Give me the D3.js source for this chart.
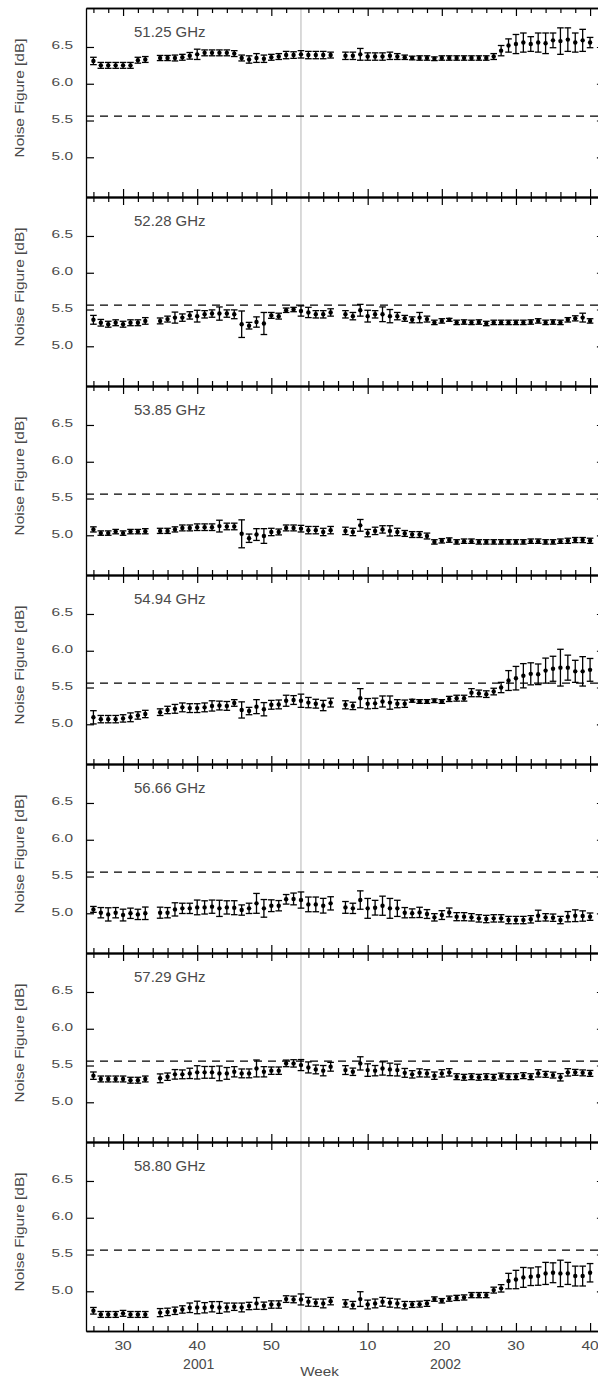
<!DOCTYPE html>
<html>
<head>
<meta charset="utf-8">
<script src="https://cdn.jsdelivr.net/npm/d3@7"></script>
<style>
  html, body { margin: 0; padding: 0; background: #fff; }
  svg { display: block; }
</style>
</head>
<body>
<svg id="chart" width="598" height="1379"></svg>
<script>
// ---------------- DATA ----------------
const frequencies = ["51.25 GHz", "52.28 GHz", "53.85 GHz", "54.94 GHz", "56.66 GHz", "57.29 GHz", "58.80 GHz"];

// continuous week index: 2001 weeks as-is, 2002 weeks = 53 + week
const weeks = [26, 27, 28, 29, 30, 31, 32, 33,
  35, 36, 37, 38, 39, 40, 41, 42, 43, 44, 45, 46, 47, 48, 49, 50, 51, 52, 53, 54, 55, 56, 57, 58,
  60, 61, 62, 63, 64, 65, 66, 67, 68, 69, 70, 71, 72, 73, 74, 75, 76, 77, 78, 79,
  80, 81, 82, 83, 84, 85, 86, 87, 88, 89, 90, 91, 92, 93];

const nf5125 = [6.31, 6.25, 6.25, 6.25, 6.25, 6.25, 6.32, 6.33,
  6.35, 6.35, 6.35, 6.36, 6.38, 6.40, 6.42, 6.42, 6.42, 6.42, 6.41, 6.35, 6.33, 6.35, 6.34, 6.36, 6.37, 6.39, 6.39, 6.40, 6.39, 6.39, 6.39, 6.39,
  6.38, 6.38, 6.40, 6.37, 6.37, 6.37, 6.38, 6.37, 6.36, 6.35, 6.35, 6.35, 6.34, 6.35, 6.35, 6.35, 6.35, 6.35, 6.35, 6.35,
  6.37, 6.45, 6.52, 6.54, 6.56, 6.54, 6.56, 6.55, 6.59, 6.58, 6.60, 6.56, 6.59, 6.56];
const err5125 = [0.05, 0.04, 0.04, 0.04, 0.04, 0.04, 0.04, 0.04,
  0.035, 0.035, 0.04, 0.04, 0.045, 0.07, 0.04, 0.04, 0.04, 0.04, 0.04, 0.04, 0.05, 0.06, 0.05, 0.04, 0.04, 0.05, 0.045, 0.05, 0.05, 0.05, 0.05, 0.04,
  0.05, 0.05, 0.08, 0.05, 0.05, 0.05, 0.05, 0.04, 0.03, 0.025, 0.03, 0.03, 0.025, 0.03, 0.03, 0.03, 0.03, 0.03, 0.03, 0.03,
  0.04, 0.07, 0.09, 0.13, 0.13, 0.10, 0.13, 0.14, 0.10, 0.18, 0.16, 0.13, 0.15, 0.07];

const nf5228 = [5.36, 5.32, 5.30, 5.32, 5.30, 5.32, 5.32, 5.345,
  5.345, 5.37, 5.39, 5.39, 5.42, 5.41, 5.435, 5.445, 5.445, 5.445, 5.435, 5.30, 5.28, 5.33, 5.31, 5.42, 5.41, 5.49, 5.50, 5.48, 5.46, 5.435, 5.435, 5.46,
  5.435, 5.41, 5.49, 5.41, 5.435, 5.435, 5.41, 5.41, 5.38, 5.36, 5.39, 5.37, 5.325, 5.345, 5.36, 5.325, 5.33, 5.325, 5.33, 5.31,
  5.325, 5.325, 5.325, 5.325, 5.325, 5.33, 5.345, 5.325, 5.33, 5.325, 5.36, 5.38, 5.39, 5.345];
const err5228 = [0.06, 0.045, 0.04, 0.04, 0.04, 0.04, 0.04, 0.045,
  0.04, 0.04, 0.075, 0.05, 0.05, 0.08, 0.05, 0.05, 0.09, 0.05, 0.06, 0.18, 0.045, 0.07, 0.15, 0.04, 0.04, 0.03, 0.03, 0.07, 0.07, 0.05, 0.05, 0.05,
  0.05, 0.05, 0.08, 0.08, 0.05, 0.10, 0.09, 0.05, 0.04, 0.04, 0.07, 0.04, 0.03, 0.03, 0.02, 0.03, 0.03, 0.03, 0.03, 0.03,
  0.03, 0.03, 0.03, 0.03, 0.03, 0.03, 0.03, 0.03, 0.03, 0.03, 0.03, 0.035, 0.06, 0.03];

const nf5385 = [5.08, 5.03, 5.03, 5.05, 5.03, 5.05, 5.05, 5.055,
  5.06, 5.06, 5.08, 5.10, 5.10, 5.11, 5.11, 5.11, 5.125, 5.12, 5.12, 5.02, 4.96, 5.01, 4.99, 5.045, 5.045, 5.10, 5.10, 5.09, 5.07, 5.07, 5.045, 5.07,
  5.06, 5.045, 5.135, 5.03, 5.06, 5.08, 5.06, 5.045, 5.025, 5.01, 5.01, 4.99, 4.91, 4.925, 4.935, 4.91, 4.92, 4.92, 4.91, 4.91,
  4.91, 4.91, 4.91, 4.91, 4.91, 4.92, 4.92, 4.91, 4.91, 4.92, 4.925, 4.935, 4.935, 4.925];
const err5385 = [0.035, 0.03, 0.03, 0.03, 0.03, 0.03, 0.03, 0.035,
  0.035, 0.035, 0.035, 0.04, 0.04, 0.045, 0.045, 0.045, 0.08, 0.045, 0.045, 0.19, 0.057, 0.08, 0.10, 0.05, 0.04, 0.04, 0.04, 0.045, 0.05, 0.05, 0.05, 0.05,
  0.05, 0.05, 0.08, 0.05, 0.05, 0.05, 0.07, 0.05, 0.04, 0.04, 0.04, 0.04, 0.03, 0.03, 0.03, 0.03, 0.03, 0.03, 0.03, 0.03,
  0.03, 0.03, 0.03, 0.03, 0.03, 0.03, 0.03, 0.03, 0.03, 0.03, 0.035, 0.035, 0.035, 0.035];

const nf5494 = [5.095, 5.07, 5.07, 5.07, 5.08, 5.095, 5.12, 5.14,
  5.165, 5.195, 5.21, 5.23, 5.22, 5.22, 5.23, 5.25, 5.255, 5.25, 5.29, 5.195, 5.18, 5.24, 5.205, 5.265, 5.27, 5.32, 5.33, 5.32, 5.295, 5.28, 5.255, 5.295,
  5.265, 5.25, 5.355, 5.28, 5.285, 5.31, 5.295, 5.28, 5.28, 5.32, 5.31, 5.31, 5.32, 5.31, 5.345, 5.355, 5.355, 5.43, 5.42, 5.41,
  5.445, 5.50, 5.595, 5.627, 5.66, 5.686, 5.68, 5.73, 5.755, 5.77, 5.77, 5.72, 5.72, 5.74];
const err5494 = [0.09, 0.05, 0.05, 0.05, 0.05, 0.06, 0.05, 0.05,
  0.045, 0.05, 0.06, 0.06, 0.06, 0.06, 0.06, 0.07, 0.06, 0.06, 0.045, 0.11, 0.05, 0.095, 0.09, 0.06, 0.06, 0.075, 0.06, 0.09, 0.07, 0.06, 0.07, 0.06,
  0.055, 0.05, 0.13, 0.07, 0.07, 0.075, 0.09, 0.055, 0.05, 0.02, 0.025, 0.025, 0.025, 0.025, 0.035, 0.04, 0.04, 0.055, 0.045, 0.045,
  0.045, 0.07, 0.135, 0.16, 0.165, 0.15, 0.14, 0.17, 0.17, 0.25, 0.17, 0.15, 0.20, 0.155];

const nf5666 = [5.053, 5.008, 4.985, 5.008, 4.976, 5.0, 4.985, 5.0,
  5.008, 5.008, 5.053, 5.067, 5.067, 5.08, 5.08, 5.09, 5.067, 5.08, 5.076, 5.044, 5.067, 5.135, 5.067, 5.103, 5.103, 5.19, 5.195, 5.18, 5.121, 5.121, 5.103, 5.135,
  5.08, 5.067, 5.18, 5.067, 5.076, 5.103, 5.067, 5.067, 5.008, 5.0, 5.012, 4.99, 4.945, 4.976, 5.012, 4.954, 4.954, 4.945, 4.931, 4.922,
  4.931, 4.931, 4.908, 4.908, 4.908, 4.918, 4.967, 4.945, 4.94, 4.908, 4.954, 4.967, 4.963, 4.954];
const err5666 = [0.04, 0.07, 0.09, 0.07, 0.08, 0.07, 0.07, 0.085,
  0.075, 0.07, 0.09, 0.07, 0.07, 0.10, 0.09, 0.09, 0.11, 0.09, 0.095, 0.07, 0.07, 0.135, 0.12, 0.08, 0.07, 0.065, 0.08, 0.11, 0.10, 0.10, 0.10, 0.09,
  0.08, 0.07, 0.125, 0.135, 0.10, 0.13, 0.135, 0.11, 0.07, 0.06, 0.07, 0.06, 0.05, 0.06, 0.06, 0.055, 0.055, 0.05, 0.05, 0.05,
  0.05, 0.05, 0.05, 0.05, 0.05, 0.05, 0.075, 0.05, 0.05, 0.05, 0.07, 0.08, 0.07, 0.05];

const nf5729 = [5.362, 5.317, 5.317, 5.317, 5.317, 5.30, 5.30, 5.317,
  5.326, 5.348, 5.38, 5.38, 5.393, 5.407, 5.407, 5.407, 5.393, 5.393, 5.415, 5.393, 5.393, 5.46, 5.415, 5.43, 5.43, 5.529, 5.529, 5.506, 5.474, 5.447, 5.43, 5.483,
  5.438, 5.415, 5.529, 5.438, 5.43, 5.46, 5.447, 5.438, 5.40, 5.38, 5.40, 5.393, 5.362, 5.393, 5.407, 5.348, 5.34, 5.348, 5.34, 5.348,
  5.34, 5.357, 5.348, 5.348, 5.362, 5.348, 5.393, 5.38, 5.37, 5.34, 5.407, 5.407, 5.40, 5.393];
const err5729 = [0.05, 0.04, 0.04, 0.04, 0.04, 0.04, 0.04, 0.04,
  0.06, 0.05, 0.065, 0.06, 0.07, 0.09, 0.08, 0.08, 0.10, 0.08, 0.07, 0.06, 0.06, 0.115, 0.07, 0.05, 0.05, 0.045, 0.05, 0.075, 0.075, 0.06, 0.07, 0.06,
  0.06, 0.05, 0.09, 0.085, 0.07, 0.09, 0.085, 0.08, 0.06, 0.05, 0.055, 0.05, 0.05, 0.05, 0.05, 0.04, 0.04, 0.04, 0.04, 0.04,
  0.04, 0.04, 0.04, 0.04, 0.04, 0.04, 0.05, 0.04, 0.04, 0.05, 0.05, 0.04, 0.04, 0.04];

const nf5880 = [4.735, 4.685, 4.685, 4.685, 4.70, 4.685, 4.685, 4.685,
  4.71, 4.72, 4.735, 4.753, 4.776, 4.78, 4.776, 4.79, 4.78, 4.78, 4.79, 4.78, 4.80, 4.835, 4.803, 4.82, 4.82, 4.894, 4.889, 4.889, 4.857, 4.844, 4.835, 4.866,
  4.835, 4.812, 4.894, 4.82, 4.835, 4.857, 4.844, 4.835, 4.812, 4.82, 4.825, 4.835, 4.894, 4.871, 4.90, 4.91, 4.916, 4.948, 4.948, 4.948,
  5.016, 5.04, 5.139, 5.16, 5.189, 5.198, 5.207, 5.243, 5.252, 5.243, 5.243, 5.207, 5.207, 5.252];
const err5880 = [0.045, 0.04, 0.04, 0.04, 0.04, 0.04, 0.04, 0.04,
  0.055, 0.05, 0.05, 0.05, 0.065, 0.085, 0.07, 0.07, 0.08, 0.06, 0.05, 0.06, 0.05, 0.08, 0.05, 0.05, 0.05, 0.045, 0.045, 0.075, 0.06, 0.05, 0.06, 0.05,
  0.05, 0.05, 0.10, 0.06, 0.06, 0.06, 0.06, 0.06, 0.05, 0.04, 0.04, 0.04, 0.03, 0.03, 0.035, 0.035, 0.035, 0.035, 0.035, 0.035,
  0.04, 0.05, 0.105, 0.125, 0.135, 0.12, 0.125, 0.15, 0.135, 0.18, 0.15, 0.135, 0.135, 0.125];

// axis ticks / labels
const ticks2001 = [26, 28, 30, 32, 34, 36, 38, 40, 42, 44, 46, 48, 50, 52];
const ticks2002 = [2, 4, 6, 8, 10, 12, 14, 16, 18, 20, 22, 24, 26, 28, 30, 32, 34, 36, 38, 40, 42];
const offset2002 = 53;          // week index of week 0 in 2002
const yTicks = [5.0, 5.5, 6.0, 6.5];
const yTickLabels = ["5.0", "5.5", "6.0", "6.5"];
const specLimit = 5.56;         // dashed reference level [dB]
const yearBoundaryWeek = 54;    // first week of 2002
const yearLabels = ["2001", "2002"];
const yearLabelWeeks = [40.2, 73.5];

const seriesValues = [nf5125, nf5228, nf5385, nf5494, nf5666, nf5729, nf5880];
const seriesErrors = [err5125, err5228, err5385, err5494, err5666, err5729, err5880];

// ---------------- LAYOUT ----------------
const left = 86, right = 604.9, top0 = 8, panelH = 189;
const font = "'Liberation Sans', Arial, Helvetica, sans-serif";
const textCol = "#4a4a4a";
const x = d3.scaleLinear().domain([25, 95]).range([left, right]);
const svg = d3.select("#chart");

const tickItems = ticks2001.map(w => ({ t: w, w }))
  .concat(ticks2002.map(w => ({ t: w + offset2002, w })));
const majorT = tickItems.filter(d => d.w % 10 === 0).map(d => d.t);
const minorT = tickItems.filter(d => d.w % 10 !== 0).map(d => d.t);

function scaledText(parent, px, py, str, size, sx, anchor, rotate) {
  const g = parent.append("g")
    .attr("transform", `translate(${px},${py})` + (rotate ? ` rotate(${rotate})` : ""));
  g.append("text")
    .attr("transform", `scale(${sx},1)`)
    .attr("text-anchor", anchor)
    .attr("font-family", font)
    .attr("font-size", size)
    .attr("fill", textCol)
    .text(str);
  return g;
}

// year boundary line
const lastBottom = top0 + panelH * frequencies.length;
svg.append("line")
  .attr("x1", x(yearBoundaryWeek)).attr("x2", x(yearBoundaryWeek))
  .attr("y1", top0).attr("y2", lastBottom)
  .attr("stroke", "#b4b4b4").attr("stroke-width", 1);

function styleAxis(g) {
  g.selectAll("path.domain").attr("stroke", "#000").attr("stroke-width", 1.3);
  g.selectAll(".tick line").attr("stroke", "#000").attr("stroke-width", 1.2);
  g.selectAll(".tick text").remove();
}

frequencies.forEach((freq, i) => {
  const top = top0 + i * panelH;
  const bot = top + panelH;
  const y = d3.scaleLinear().domain([4.46, 7.03]).range([bot, top]);
  const g = svg.append("g");

  // dashed reference level
  g.append("line")
    .attr("x1", left).attr("x2", right)
    .attr("y1", y(specLimit)).attr("y2", y(specLimit))
    .attr("stroke", "#000").attr("stroke-width", 1.2)
    .attr("stroke-dasharray", "8,6");

  // x axes (top and bottom of each panel, ticks inward)
  [[d3.axisBottom, top], [d3.axisTop, bot]].forEach(([fn, yy]) => {
    const aMin = g.append("g").attr("transform", `translate(0,${yy})`)
      .call(fn(x).tickValues(minorT).tickSize(5).tickSizeOuter(0));
    styleAxis(aMin);
    const aMaj = g.append("g").attr("transform", `translate(0,${yy})`)
      .call(fn(x).tickValues(majorT).tickSize(8).tickSizeOuter(0));
    styleAxis(aMaj);
  });

  // y axes (left and right, ticks inward)
  const aL = g.append("g").attr("transform", `translate(${left},0)`)
    .call(d3.axisRight(y).tickValues(yTicks).tickSize(8).tickSizeOuter(0));
  styleAxis(aL);
  const aR = g.append("g").attr("transform", `translate(${right},0)`)
    .call(d3.axisLeft(y).tickValues(yTicks).tickSize(8).tickSizeOuter(0));
  styleAxis(aR);

  // y tick labels
  yTicks.forEach((v, k) => {
    scaledText(g, 73, y(v) + 2.5, yTickLabels[k], 11, 1.4, "end");
  });

  // y title
  scaledText(g, 24, top + 90, "Noise Figure  [dB]", 13.5, 1.14, "middle", -90);

  // panel label
  scaledText(g, 134, top + 29, freq, 14, 1.07, "start");

  // data
  const vals = seriesValues[i], errs = seriesErrors[i];
  const pts = weeks.map((w, k) => ({ w, v: vals[k], e: errs[k] }));
  const eb = g.append("g").attr("stroke", "#000").attr("stroke-width", 1.3);
  eb.selectAll("line.stem").data(pts).join("line").attr("class", "stem")
    .attr("x1", d => x(d.w)).attr("x2", d => x(d.w))
    .attr("y1", d => y(d.v - d.e)).attr("y2", d => y(d.v + d.e));
  eb.selectAll("line.capt").data(pts).join("line").attr("class", "capt")
    .attr("x1", d => x(d.w) - 3.3).attr("x2", d => x(d.w) + 3.3)
    .attr("y1", d => y(d.v + d.e)).attr("y2", d => y(d.v + d.e));
  eb.selectAll("line.capb").data(pts).join("line").attr("class", "capb")
    .attr("x1", d => x(d.w) - 3.3).attr("x2", d => x(d.w) + 3.3)
    .attr("y1", d => y(d.v - d.e)).attr("y2", d => y(d.v - d.e));
  g.append("g").selectAll("circle").data(pts).join("circle")
    .attr("cx", d => x(d.w)).attr("cy", d => y(d.v)).attr("r", 2.2)
    .attr("fill", "#000");

  // bottom labels on last panel
  if (i === frequencies.length - 1) {
    tickItems.filter(d => d.w % 10 === 0).forEach(d => {
      scaledText(svg, x(d.t), bot + 18.5, String(d.w), 13, 1.2, "middle");
    });
    yearLabels.forEach((lab, k) => {
      scaledText(svg, x(yearLabelWeeks[k]), bot + 38.3, lab, 14, 1.0, "middle");
    });
    scaledText(svg, x(56.5), bot + 44.5, "Week", 13, 1.17, "middle");
  }
});
</script>
</body>
</html>
